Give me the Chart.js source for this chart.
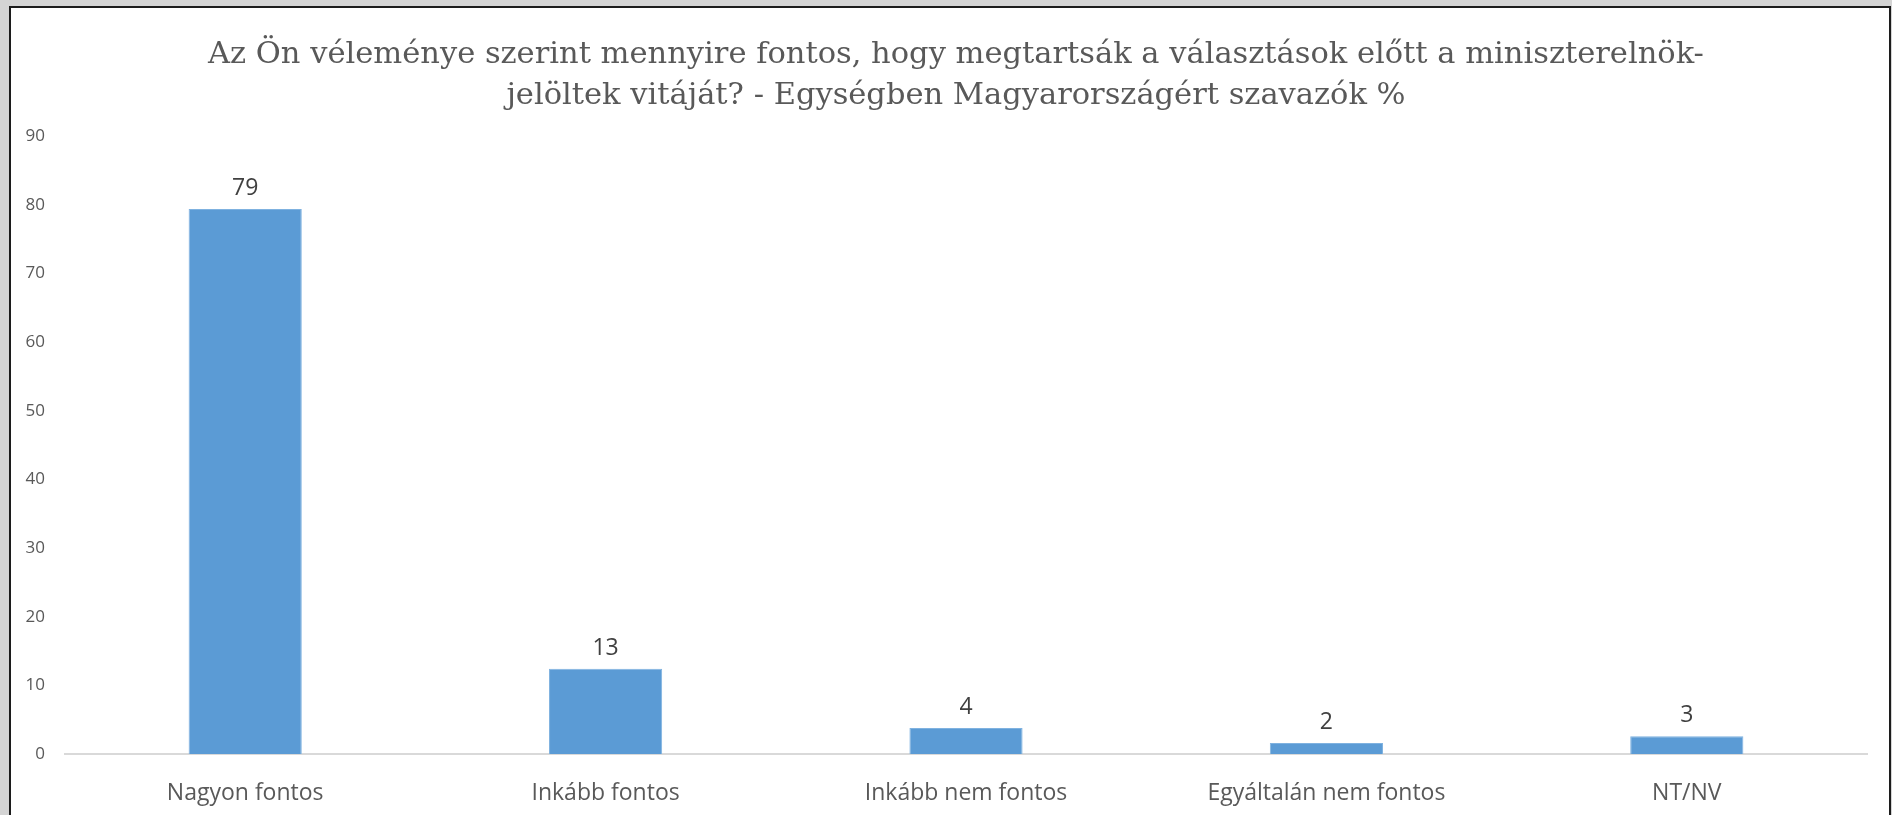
<!DOCTYPE html>
<html>
<head>
<meta charset="utf-8">
<script src="https://cdn.jsdelivr.net/npm/chart.js@4"></script>
<style>
  html, body { margin: 0; padding: 0; background: #d4d4d4; overflow: hidden; }
  #frame {
    position: absolute; left: 9px; top: 6px;
    width: 1878px; height: 820px;
    background: #fff;
    border: 2px solid #1c1c1c;
    border-bottom: none;
  }
  canvas { display: block; }
</style>
</head>
<body>
<div id="frame"><canvas id="chart" width="1878" height="807"></canvas></div>
<script>
const categories = ['Nagyon fontos', 'Inkább fontos', 'Inkább nem fontos', 'Egyáltalán nem fontos', 'NT/NV']
// bar heights as drawn, and the rounded labels printed above them
const values = [79.4, 12.4, 3.8, 1.6, 2.6]
const valueLabels = ['79', '13', '4', '2', '3']
const yTicks = [0, 10, 20, 30, 40, 50, 60, 70, 80, 90]

const titleLines = [
  'Az Ön véleménye szerint mennyire fontos, hogy megtartsák a választások előtt a miniszterelnök-',
  'jelöltek vitáját? - Egységben Magyarországért szavazók %'
]

// draws the value above each bar
const barLabels = {
  id: 'barLabels',
  afterDatasetsDraw(chart) {
    const ctx = chart.ctx
    const meta = chart.getDatasetMeta(0)
    ctx.save()
    ctx.font = '23px "Open Sans"'
    ctx.fillStyle = '#404040'
    ctx.textAlign = 'center'
    ctx.textBaseline = 'bottom'
    meta.data.forEach((bar, i) => {
      ctx.fillText(valueLabels[i], bar.x, bar.y - 9)
    })
    ctx.restore()
  }
}

// the title sits a little right of the plot centre in the original
const titleNudge = {
  id: 'titleNudge',
  afterLayout(chart) {
    if (chart.titleBlock) {
      chart.titleBlock.left += 17
      chart.titleBlock.right += 17
    }
  }
}

new Chart(document.getElementById('chart'), {
  type: 'bar',
  data: {
    labels: categories,
    datasets: [{
      data: values,
      backgroundColor: '#5b9bd5',
      borderColor: '#7fb2e0',
      borderWidth: 1,
      categoryPercentage: 1,
      barPercentage: 0.314
    }]
  },
  options: {
    responsive: false,
    animation: false,
    layout: { padding: { left: 0, right: 22, top: 0, bottom: 0 } },
    plugins: {
      legend: { display: false },
      tooltip: { enabled: false },
      title: {
        display: true,
        text: titleLines,
        color: '#595959',
        font: { family: '"DejaVu Serif"', size: 30.5, weight: 'normal', lineHeight: 1.33 },
        padding: { top: 27, bottom: 20 }
      }
    },
    scales: {
      x: {
        grid: { display: false, drawTicks: false },
        border: { display: true, color: '#d9d9d9', width: 2 },
        ticks: { color: '#595959', font: { family: '"Open Sans"', size: 23 }, padding: 26 },
        afterFit(scale) { scale.height = 61 }
      },
      y: {
        min: 0,
        max: 90,
        afterBuildTicks(scale) { scale.ticks = yTicks.map(v => ({ value: v })) },
        grid: { display: false, drawTicks: false },
        border: { display: false },
        ticks: { color: '#595959', font: { family: '"Open Sans"', size: 17 }, padding: 20 },
        afterFit(scale) { scale.width = 54 }
      }
    }
  },
  plugins: [barLabels, titleNudge]
})
</script>
</body>
</html>
